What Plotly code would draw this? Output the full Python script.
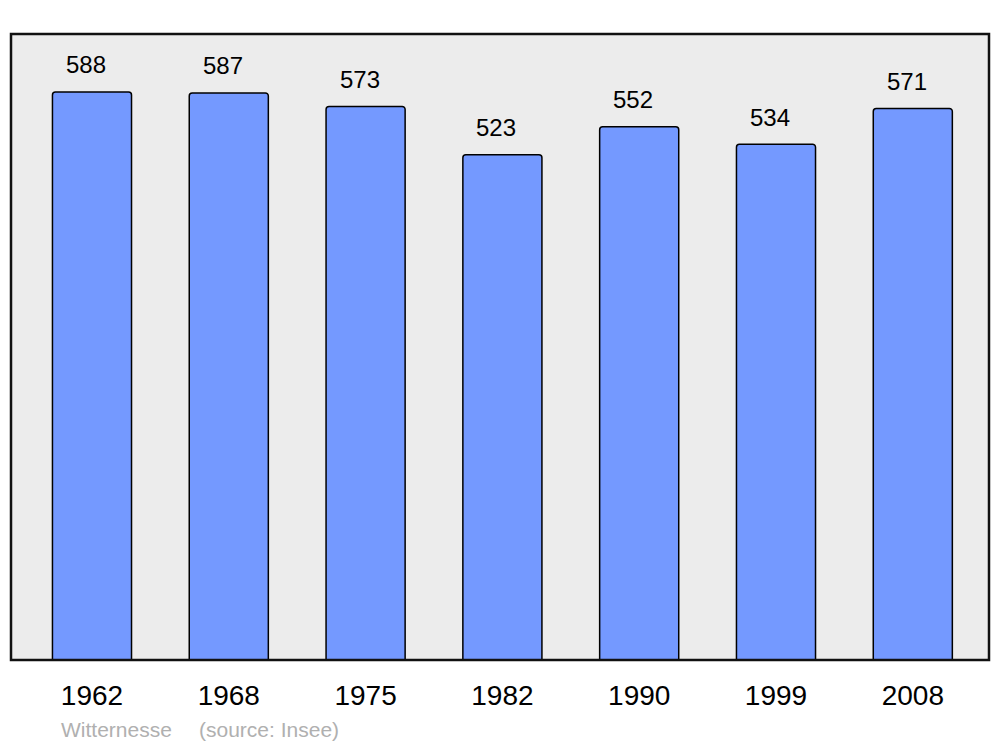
import plotly.graph_objects as go

years = ["1962", "1968", "1975", "1982", "1990", "1999", "2008"]
population = [588, 587, 573, 523, 552, 534, 571]
commune = "Witternesse"
source = "(source: Insee)"

idx = list(range(len(years)))

fig = go.Figure()
fig.add_trace(go.Bar(
    x=idx, y=population, width=0.578,
    marker=dict(color="#7499ff", line=dict(color="#000000", width=1.5), cornerradius=3),
    hovertext=years, hoverinfo="text+y",
))

for i, v in zip(idx, population):
    fig.add_annotation(x=i, y=v, xref="x", yref="y", text=str(v), showarrow=False,
                       yshift=27, xshift=-6, yanchor="middle",
                       font=dict(family="Liberation Sans, Arial", size=24, color="#000000"))

fig.add_annotation(xref="paper", yref="paper", x=(59 - 11) / 978, y=-0.133, xanchor="left",
                   text=commune, showarrow=False,
                   font=dict(family="Liberation Sans, Arial", size=21, color="#b0b0b0"))
fig.add_annotation(xref="paper", yref="paper", x=(197 - 11) / 978, y=-0.133, xanchor="left",
                   text=source, showarrow=False,
                   font=dict(family="Liberation Sans, Arial", size=21, color="#b0b0b0"))

fig.add_shape(type="rect", xref="paper", yref="paper", x0=0, y0=0, x1=1, y1=1,
              line=dict(color="#111111", width=2.5), layer="above")

fig.update_layout(
    width=1000, height=747,
    margin=dict(l=11, r=11, t=34, b=87),
    paper_bgcolor="#ffffff", plot_bgcolor="#ececec",
    showlegend=False,
    xaxis=dict(range=[-0.592, 6.557], showgrid=False, zeroline=False,
               tickmode="array", tickvals=idx, ticktext=years,
               ticks="", ticklabelstandoff=16,
               tickfont=dict(family="Liberation Sans, Arial", size=28, color="#000000")),
    yaxis=dict(range=[0, 648], showgrid=False, zeroline=False, showticklabels=False, ticks=""),
)

fig.write_html("out.html", config={"displayModeBar": False},
               post_script="document.body.style.margin='0';")
